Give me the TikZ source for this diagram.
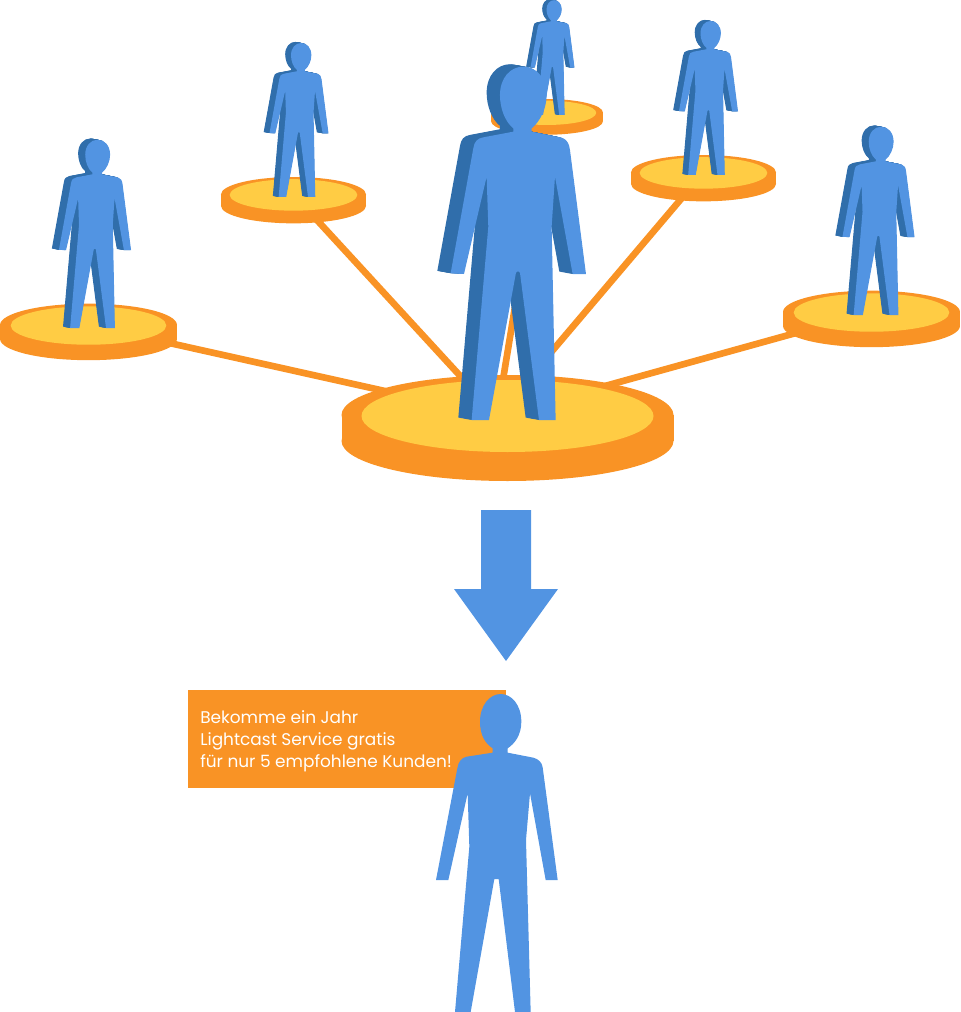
\documentclass[tikz,border=0pt]{standalone}
\usepackage{fontspec}
\setmainfont{Poppins}
\definecolor{pblue}{HTML}{5294E2}
\definecolor{pdark}{HTML}{306EAB}
\definecolor{porange}{HTML}{F99325}
\definecolor{pyellow}{HTML}{FFCC44}
\tikzset{
  link/.style={draw=porange,line width=5pt},
  banner/.style={fill=porange,draw=none},
  bannertext/.style={text=white,anchor=north west,inner sep=0pt,align=left,font=\fontsize{12.7pt}{16.5pt}\selectfont},
}
% front outline of the extruded person, in 3x zoom units
\def\personpath{
  (280,245) -- (280,235) .. controls (255,215) and (240,175) .. (240,135)
  .. controls (240,85) and (270,50) .. (310,50)
  .. controls (350,50) and (380,85) .. (380,135)
  .. controls (380,175) and (360,215) .. (335,235) -- (335,245)
  -- (425,263) .. controls (440,268) and (448,280) .. (450,300)
  -- (498,672) -- (458,672) -- (405,380) -- (395,530) -- (407,1110) -- (357,1110)
  -- (300,668) .. controls (298,662) and (290,662) .. (288,668)
  -- (207,1110) -- (155,1110) -- (205,530) -- (200,380) -- (132,672) -- (92,670)
  -- (160,295) .. controls (163,275) and (172,265) .. (190,262) -- cycle}
% #1 x, #2 feet y, #3 scale
\newcommand{\personfig}[3]{%
  \begin{scope}[shift={(#1,#2)},scale=#3/3,shift={(-295,-1110)}]
    \foreach \k in {12,...,1}{\fill[pdark,shift={(-\k*3.33,-\k*0.6)}] \personpath;}
    \fill[pblue] \personpath;
  \end{scope}}
% #1 centre coordinate, #2 scale
\newcommand{\discfig}[2]{%
  \begin{scope}[shift={(#1)},scale=#2]
    \fill[porange] (0,26) ellipse [x radius=166,y radius=40];
    \fill[porange] (-166,0) rectangle (166,26);
    \fill[porange] (0,0) ellipse [x radius=166,y radius=40];
    \fill[pyellow] (0,1) ellipse [x radius=146,y radius=36];
  \end{scope}}
\begin{document}
\begin{tikzpicture}[x=0.75pt,y=-0.75pt]
\useasboundingbox (0,0) rectangle (960,1012);
\coordinate (hub) at (507.5,415);
\coordinate (hubc) at (497,416);
\coordinate (d1) at (88.5,325);
\coordinate (d2) at (293.5,194.5);
\coordinate (d3) at (547,112.5);
\coordinate (d4) at (703.5,172.5);
\coordinate (d5) at (871.5,312);
\foreach \d in {d1,d2,d3,d4,d5}{\draw[link] (\d) -- (hubc);}
\discfig{d1}{0.533}
\discfig{d2}{0.437}
\discfig{d3}{0.337}
\discfig{d4}{0.437}
\discfig{d5}{0.533}
\discfig{hub}{1}
\personfig{95}{328}{0.533}
\personfig{299}{197}{0.436}
\personfig{552.5}{115}{0.325}
\personfig{708.5}{175}{0.436}
\personfig{878.5}{315}{0.533}
\personfig{518.3}{420}{1}
% arrow
\fill[pblue] (481,510) -- (531,510) -- (531,589) -- (558,589) -- (506,661) -- (454,589) -- (481,589) -- cycle;
% banner
\fill[banner] (188,690) rectangle (506,788);
\node[bannertext] (offer) at (200,710) {Bekomme ein Jahr\\Lightcast Service gratis\\für nur 5 empfohlene Kunden!};
% bottom person
\begin{scope}[shift={(180,680)},scale=1/3]
\fill[pblue] (938,218) -- (938,205) .. controls (915,190) and (900,165) .. (900,125)
  .. controls (900,75) and (930,42) .. (962,42)
  .. controls (995,42) and (1024,75) .. (1024,125)
  .. controls (1024,165) and (1005,190) .. (983,205) -- (983,218)
  -- (1060,233) .. controls (1075,237) and (1086,247) .. (1088,262)
  -- (1133,600) -- (1097,600) -- (1050,340) -- (1038,480) -- (1052,996) -- (1005,996)
  -- (956,597) -- (943,597) -- (872,996) -- (825,996) -- (868,500) -- (863,340)
  -- (805,600) -- (768,600) -- (832,265) .. controls (835,245) and (845,233) .. (860,230) -- cycle;
\end{scope}
\end{tikzpicture}
\end{document}
